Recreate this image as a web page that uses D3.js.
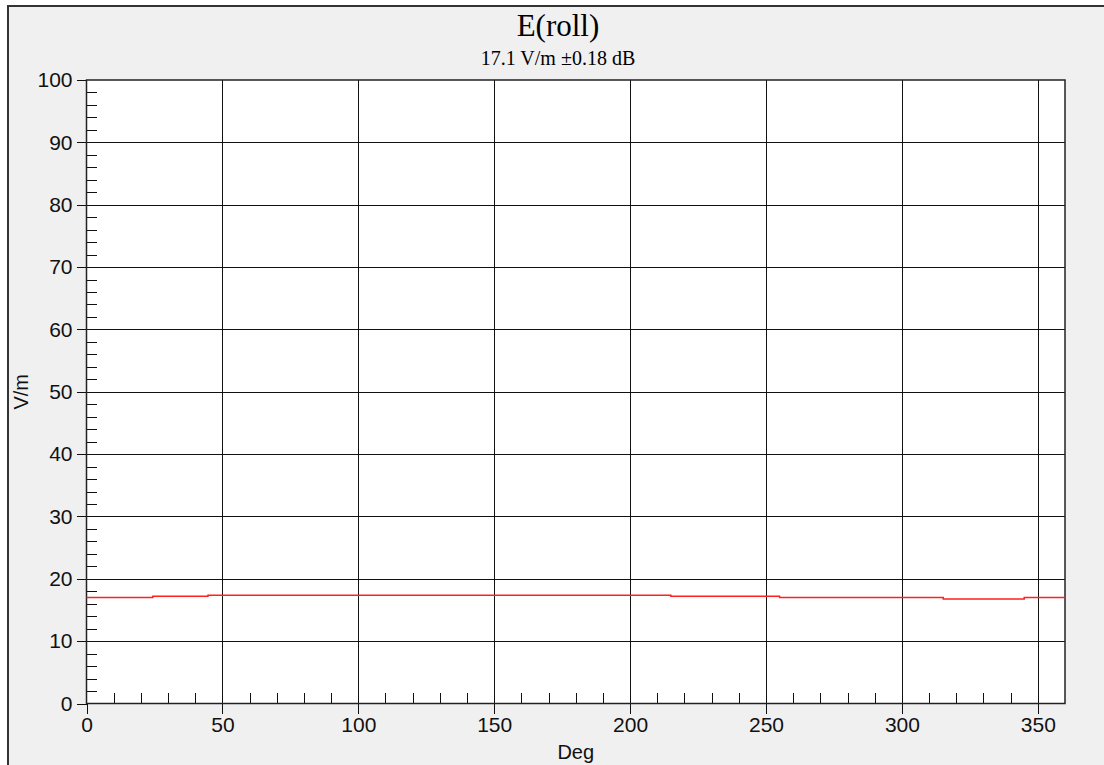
<!DOCTYPE html>
<html>
<head>
    <meta charset="utf-8">
    <title>E(roll)</title>
    <script src="https://d3js.org/d3.v7.min.js"></script>
    <style type="text/css">
        body { margin: 0; background: #fff; }
        .tick text { font-family: "Liberation Sans", Arial, sans-serif; font-size: 21px; fill: #111; }
        .axis path { display: none; }
        .axis line, .grid line { stroke: #111; stroke-width: 1; shape-rendering: crispEdges; }
    </style>
</head>
<body>
    <script type="text/javascript">
        // step breakpoints (deg) and field values (V/m)
        let degs   = [0, 24.4, 44.7, 215, 255, 315.2, 345, 360];
        let values = [17.0, 17.2, 17.37, 17.2, 17.0, 16.78, 17.0, 17.0];
        let xTicks = [0, 50, 100, 150, 200, 250, 300, 350];
        let yTicks = [0, 10, 20, 30, 40, 50, 60, 70, 80, 90, 100];
        let title = "E(roll)";
        let subtitle = "17.1 V/m \u00b10.18 dB";

        let W = 1104, H = 765;
        let pLeft = 86.5, pRight = 1065, pTop = 80, pBottom = 703.5;

        let svg = d3.select("body").append("svg")
            .attr("width", W)
            .attr("height", H);

        // window frame
        svg.append("rect")
            .attr("x", 8).attr("y", 6)
            .attr("width", W).attr("height", H)
            .attr("fill", "#f0f0f0")
            .attr("stroke", "#333")
            .attr("stroke-width", 2);

        let x = d3.scaleLinear().domain([0, 360]).range([pLeft, pRight]);
        let y = d3.scaleLinear().domain([0, 100]).range([pBottom, pTop]);

        svg.append("rect")
            .attr("x", pLeft).attr("y", pTop)
            .attr("width", pRight - pLeft).attr("height", pBottom - pTop)
            .attr("fill", "#fff");

        // grid
        svg.append("g").attr("class", "grid")
            .attr("transform", `translate(0,${pBottom})`)
            .call(d3.axisBottom(x).tickValues(xTicks.slice(1)).tickSize(-(pBottom - pTop)).tickFormat(""))
            .call(g => g.select(".domain").remove());
        svg.append("g").attr("class", "grid")
            .attr("transform", `translate(${pLeft},0)`)
            .call(d3.axisLeft(y).tickValues(yTicks.slice(1, -1)).tickSize(-(pRight - pLeft)).tickFormat(""))
            .call(g => g.select(".domain").remove());

        // minor ticks (inside)
        svg.append("g").attr("class", "axis")
            .attr("transform", `translate(0,${pBottom})`)
            .call(d3.axisBottom(x).tickValues(d3.range(10, 360, 10).filter(d => d % 50)).tickSize(-11).tickFormat(""));
        svg.append("g").attr("class", "axis")
            .attr("transform", `translate(${pLeft},0)`)
            .call(d3.axisLeft(y).tickValues(d3.range(2, 100, 2).filter(d => d % 10)).tickSize(-10).tickFormat(""));

        // major ticks + labels
        svg.append("g").attr("class", "axis")
            .attr("transform", `translate(0,${pBottom})`)
            .call(d3.axisBottom(x).tickValues(xTicks).tickSize(10).tickPadding(4).tickFormat(d3.format("d")));
        svg.append("g").attr("class", "axis")
            .attr("transform", `translate(${pLeft},0)`)
            .call(d3.axisLeft(y).tickValues(yTicks).tickSize(10).tickPadding(4).tickFormat(d3.format("d")));

        // plot border
        svg.append("rect")
            .attr("x", pLeft).attr("y", pTop)
            .attr("width", pRight - pLeft).attr("height", pBottom - pTop)
            .attr("fill", "none")
            .attr("stroke", "#222")
            .attr("stroke-width", 1.5);

        // data line
        let line = d3.line()
            .x((d, i) => x(degs[i]))
            .y(d => y(d))
            .curve(d3.curveStepAfter);
        svg.append("path")
            .attr("d", line(values))
            .attr("fill", "none")
            .attr("stroke", "#ff2020")
            .attr("stroke-width", 1.5);

        // titles
        svg.append("text")
            .attr("x", 558).attr("y", 36)
            .attr("text-anchor", "middle")
            .style("font-family", "'Liberation Serif', 'Times New Roman', serif")
            .style("font-size", "31px")
            .text(title);
        svg.append("text")
            .attr("x", 558).attr("y", 65)
            .attr("text-anchor", "middle")
            .style("font-family", "'Liberation Serif', 'Times New Roman', serif")
            .style("font-size", "20px")
            .text(subtitle);

        svg.append("text")
            .attr("x", (pLeft + pRight) / 2).attr("y", 759)
            .attr("text-anchor", "middle")
            .style("font-family", "'Liberation Sans', Arial, sans-serif")
            .style("font-size", "20px")
            .attr("fill", "#111")
            .text("Deg");
        svg.append("text")
            .attr("transform", `translate(28,${(pTop + pBottom) / 2}) rotate(-90)`)
            .attr("text-anchor", "middle")
            .style("font-family", "'Liberation Sans', Arial, sans-serif")
            .style("font-size", "20px")
            .attr("fill", "#111")
            .text("V/m");
    </script>
</body>
</html>
